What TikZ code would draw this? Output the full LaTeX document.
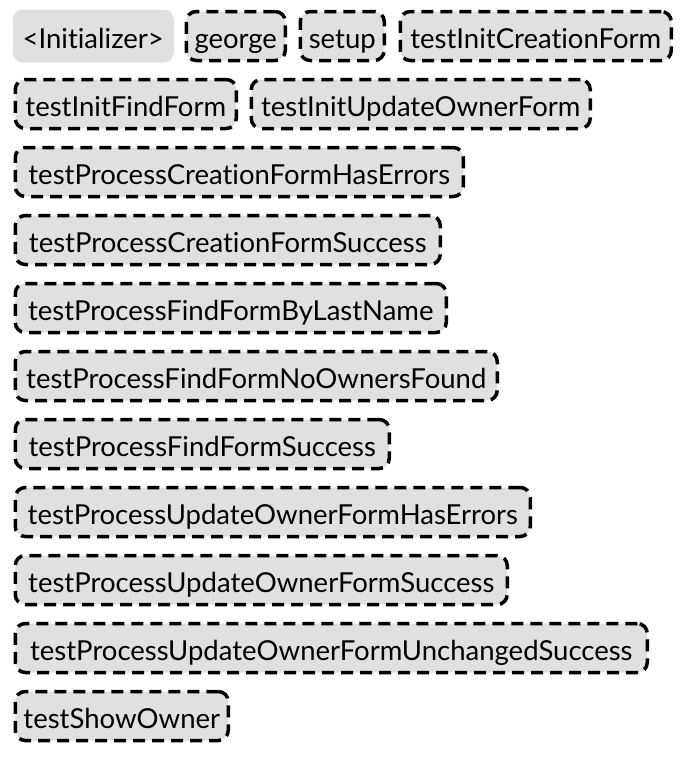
\documentclass[tikz,border=0pt]{standalone}
\usepackage{fontspec}
\setmainfont{Lato}[Ligatures={NoCommon}]
\definecolor{boxgray}{HTML}{E0E0E0}
\tikzset{
  tbox/.style={rectangle, rounded corners=10pt, fill=boxgray, draw=black, line width=3.5pt,
    dash pattern=on 12pt off 7pt, minimum height=49pt, anchor=west, inner sep=0pt,
    text height=30pt, text depth=6pt,
    font=\fontsize{27.5}{32}\selectfont},
  plainbox/.style={tbox, draw=none, minimum height=53pt},
}
\begin{document}
\begin{tikzpicture}[x=1pt,y=-1pt]
\useasboundingbox (0,0) rectangle (693,761);
\node[plainbox, minimum width=161pt] (init) at (11,36) {<Initializer>};
\node[tbox, minimum width=99pt] (george) at (184.5,36) {george};
\node[tbox, minimum width=84pt] (setup) at (298.5,36) {setup};
\node[tbox, minimum width=271pt] (initcreate) at (398.5,36) {testInitCreationForm};
\node[tbox, minimum width=221pt] (initfind) at (13.5,104) {testInitFindForm};
\node[tbox, minimum width=339pt] (initupdate) at (249.5,104) {testInitUpdateOwnerForm};
\node[tbox, minimum width=448pt] (pcfhe) at (13.5,172) {testProcessCreationFormHasErrors};
\node[tbox, minimum width=425pt] (pcfs) at (13.5,240) {testProcessCreationFormSuccess};
\node[tbox, minimum width=431pt] (pffln) at (13.5,308) {testProcessFindFormByLastName};
\node[tbox, minimum width=482pt] (pffnof) at (13.5,376) {testProcessFindFormNoOwnersFound};
\node[tbox, minimum width=374pt] (pffs) at (13.5,444) {testProcessFindFormSuccess};
\node[tbox, minimum width=515pt] (puofhe) at (13.5,512) {testProcessUpdateOwnerFormHasErrors};
\node[tbox, minimum width=492pt] (puofs) at (13.5,580) {testProcessUpdateOwnerFormSuccess};
\node[tbox, minimum width=632pt] (puofus) at (13.5,648) {testProcessUpdateOwnerFormUnchangedSuccess};
\node[tbox, minimum width=213pt] (showowner) at (13.5,716) {testShowOwner};
\end{tikzpicture}
\end{document}
